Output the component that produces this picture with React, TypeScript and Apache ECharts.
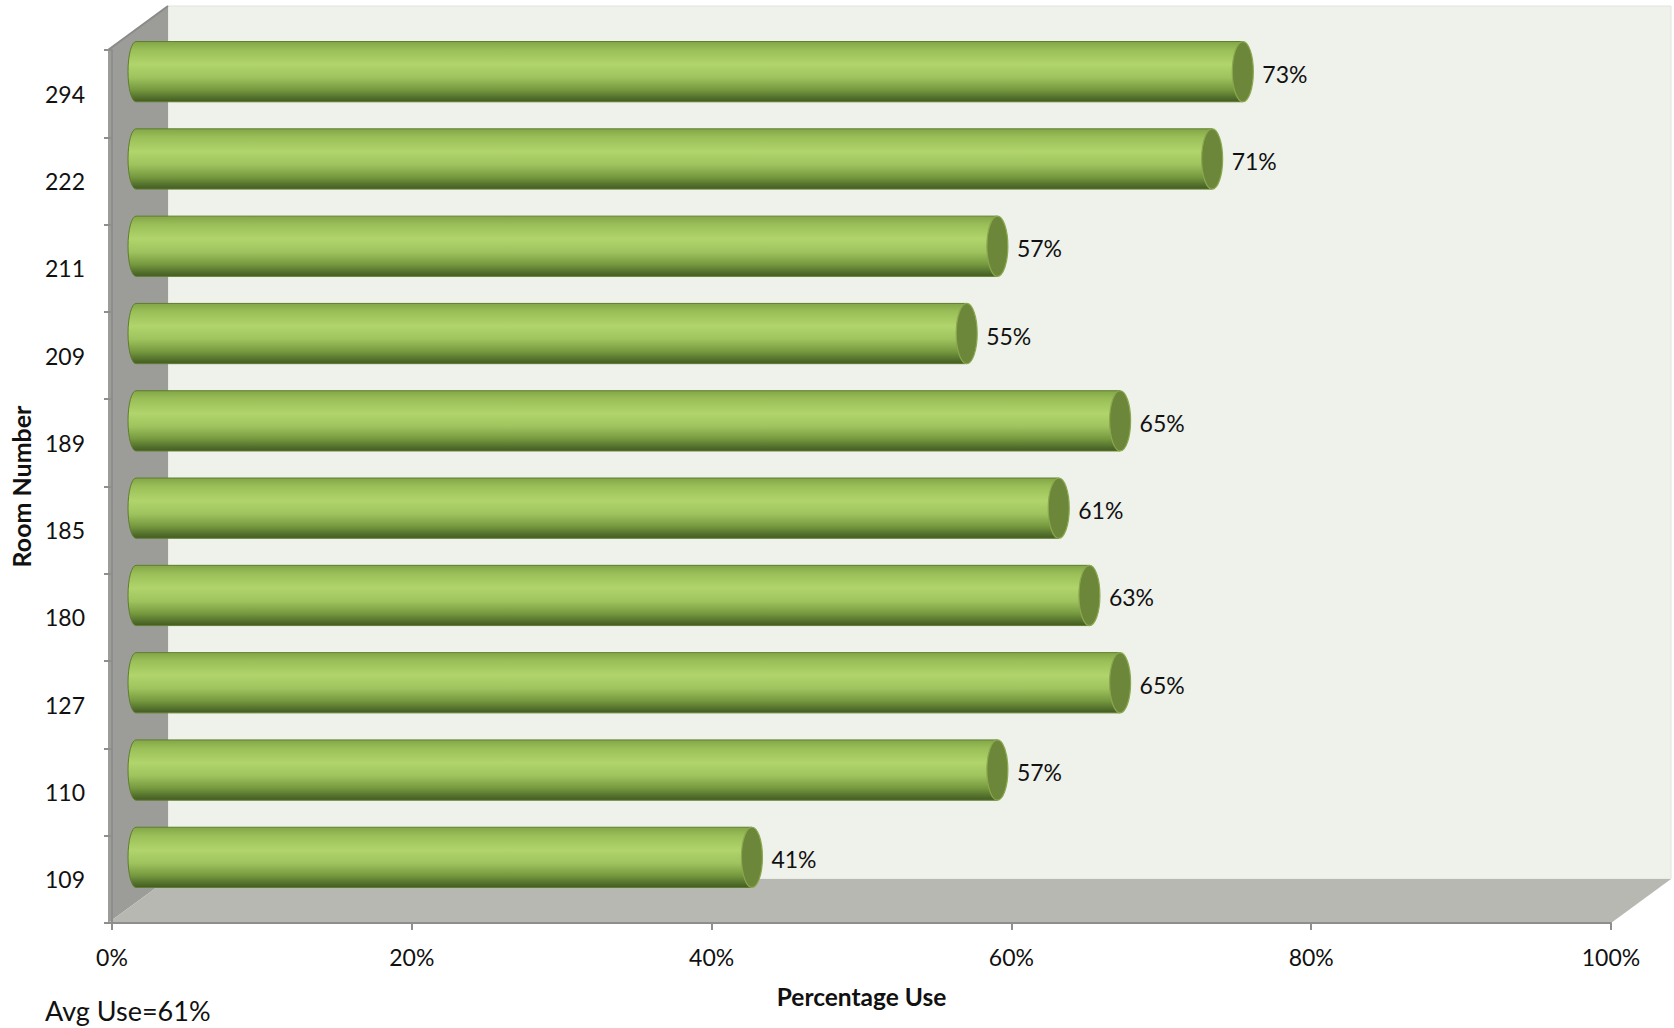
import React, { useEffect, useRef } from 'react';
import * as echarts from 'echarts';

const rooms = ['109', '110', '127', '180', '185', '189', '209', '211', '222', '294'];
const usage = [41, 57, 65, 63, 61, 65, 55, 57, 71, 73];
const avgUse = 61;
const xTitle = 'Percentage Use';
const yTitle = 'Room Number';

const FRONT = { left: 108, top: 50, width: 1503, height: 873 };
const DEPTH = { dx: 60, dy: 44 };
const BARS = { left: 123, top: 28, width: 1534, height: 873 };
const FONT = 'Lato';

export default function App() {
  const ref = useRef<HTMLDivElement>(null);
  useEffect(() => {
    const chart = echarts.init(ref.current!, null, { renderer: 'svg' });
    const fx0 = FRONT.left, fx1 = FRONT.left + FRONT.width;
    const fy0 = FRONT.top, fy1 = FRONT.top + FRONT.height;
    const bx0 = fx0 + DEPTH.dx, bx1 = fx1 + DEPTH.dx;
    const by0 = fy0 - DEPTH.dy, by1 = fy1 - DEPTH.dy;

    const grad = new echarts.graphic.LinearGradient(0, 0, 0, 1, [
      { offset: 0, color: '#83A647' },
      { offset: 0.15, color: '#9CC059' },
      { offset: 0.38, color: '#B1D56C' },
      { offset: 0.6, color: '#9EC25D' },
      { offset: 0.8, color: '#76993F' },
      { offset: 0.94, color: '#516D2B' },
      { offset: 1, color: '#435B22' },
    ]);

    const axisColor = '#8E8E8E';
    const option: any = {
      animation: false,
      backgroundColor: '#ffffff',
      grid: [
        { left: FRONT.left, top: FRONT.top, width: FRONT.width, height: FRONT.height },
        { left: BARS.left, top: BARS.top, width: BARS.width, height: BARS.height },
      ],
      xAxis: [
        {
          gridIndex: 0, type: 'value', min: 0, max: 100, interval: 20, z: 10,
          axisLine: { show: true, lineStyle: { color: axisColor, width: 2 } },
          axisTick: { show: true, length: 7, lineStyle: { color: axisColor, width: 2 } },
          splitLine: { show: false },
          axisLabel: { formatter: '{value}%', fontSize: 23, fontFamily: FONT, color: '#111', margin: 22 },
          name: xTitle, nameLocation: 'middle', nameGap: 61,
          nameTextStyle: { fontSize: 24.5, fontWeight: 'bold', fontFamily: FONT, color: '#111' },
        },
        { gridIndex: 1, type: 'value', min: 0, max: 100, show: false },
      ],
      yAxis: [
        {
          gridIndex: 0, type: 'category', data: rooms, z: 10,
          axisLine: { show: true, lineStyle: { color: axisColor, width: 2 } },
          axisTick: { show: true, length: 8, lineStyle: { color: axisColor, width: 2 } },
          axisLabel: { fontSize: 23, fontFamily: FONT, color: '#111', margin: 27 },
          name: yTitle, nameLocation: 'middle', nameGap: 79, nameRotate: 90,
          nameTextStyle: { fontSize: 25, fontWeight: 'bold', fontFamily: FONT, color: '#111' },
        },
        { gridIndex: 1, type: 'category', data: rooms, show: false },
      ],
      graphic: [
        { type: 'rect', z: 1, shape: { x: bx0, y: by0, width: bx1 - bx0, height: by1 - by0 }, style: { fill: '#EFF1EB', stroke: '#E2E4DE', lineWidth: 1 } },
        { type: 'polygon', z: 1, shape: { points: [[fx0, fy0], [bx0, by0], [bx0, by1], [fx0, fy1]] }, style: { fill: '#9C9D99' } },
        { type: 'polygon', z: 1, shape: { points: [[fx0, fy1], [fx1, fy1], [bx1, by1], [bx0, by1]] }, style: { fill: '#B6B8B1' } },
        { type: 'line', z: 1, shape: { x1: fx0, y1: fy0, x2: bx0, y2: by0 }, style: { stroke: '#8A8B88', lineWidth: 2 } },
        { type: 'text', z: 1, style: { text: `Avg Use=${avgUse}%`, x: 45, y: 1010, verticalAlign: 'middle', fontSize: 27, fontFamily: FONT, fill: '#111' } },
      ],
      series: [
        {
          type: 'custom', xAxisIndex: 1, yAxisIndex: 1, z: 5,
          data: usage.map((v, i) => [v, i]),
          encode: { x: 0, y: 1 },
          renderItem: (params: any, api: any) => {
            const v = api.value(0) as number;
            const idx = api.value(1) as number;
            const p0 = api.coord([0, idx]);
            const p1 = api.coord([v, idx]);
            const band = (api.size([0, 1]) as number[])[1];
            const h = band * 0.69;
            const ry = h / 2;
            const yc = p0[1];
            const yt = yc - ry, yb = yc + ry;
            const xs = p0[0] + 13;
            const xe = p1[0];
            const rl = 8, rr = 10.5;
            const body = `M${xs} ${yt}L${xe} ${yt}L${xe} ${yb}L${xs} ${yb}A${rl} ${ry} 0 0 1 ${xs} ${yt}Z`;
            const cap = `M${xe - rr} ${yc}A${rr} ${ry} 0 1 0 ${xe + rr} ${yc}A${rr} ${ry} 0 1 0 ${xe - rr} ${yc}Z`;
            return {
              type: 'group',
              children: [
                { type: 'path', shape: { pathData: body }, style: { fill: grad, stroke: '#5E7D2E', lineWidth: 1 } },
                { type: 'path', shape: { pathData: cap }, style: { fill: '#6C873A', stroke: '#8AA94D', lineWidth: 1.2 } },
                {
                  type: 'text',
                  style: { text: `${v}%`, x: xe + rr + 9, y: yc + 2, verticalAlign: 'middle', align: 'left', fontSize: 23, fontFamily: FONT, fill: '#111' },
                },
              ],
            };
          },
        },
      ],
    };
    chart.setOption(option);
    return () => chart.dispose();
  }, []);
  return <div ref={ref} style={{ position: 'fixed', left: 0, top: 0, width: 1674, height: 1028 }} />;
}
